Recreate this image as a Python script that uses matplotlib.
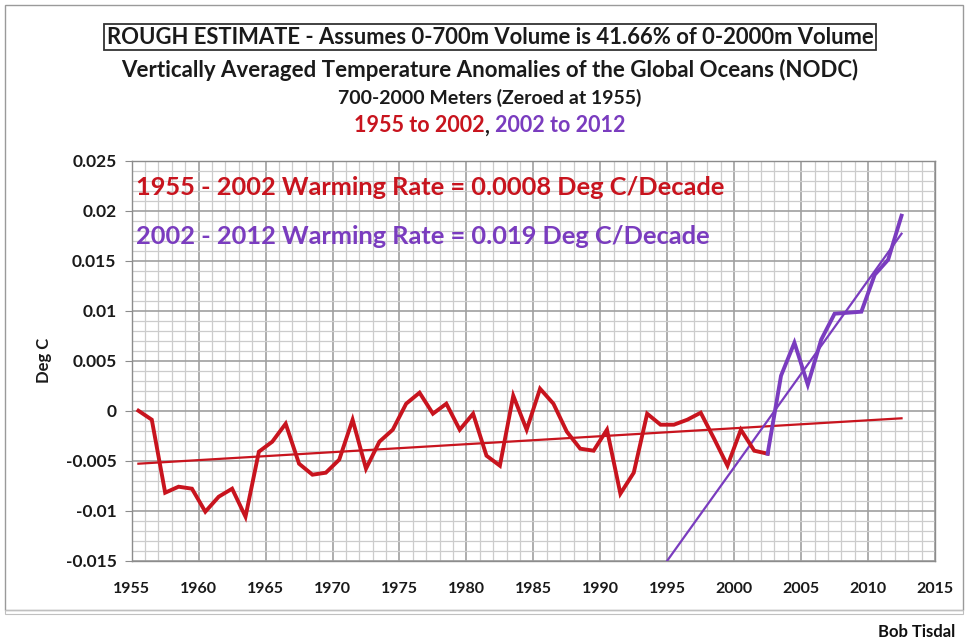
import numpy as np
import matplotlib
matplotlib.use("Agg")
import matplotlib.pyplot as plt
from matplotlib.ticker import MultipleLocator, FixedLocator
from matplotlib.patches import Rectangle

# ---------------- data ----------------
red_years = list(range(1955, 2003))
red_values = [0.0000, -0.0009, -0.0082, -0.0076, -0.0078, -0.0101, -0.0086, -0.0078,
              -0.0106, -0.0041, -0.0031, -0.0013, -0.0053, -0.0064, -0.0062, -0.0049,
              -0.0009, -0.0058, -0.0031, -0.0019, 0.0007, 0.0018, -0.0003, 0.0007,
              -0.0019, -0.0003, -0.0045, -0.0055, 0.0015, -0.0019, 0.0022, 0.0007,
              -0.0021, -0.0038, -0.0040, -0.0019, -0.0083, -0.0062, -0.0003, -0.0014,
              -0.0014, -0.0009, -0.0002, -0.0028, -0.0055, -0.0019, -0.0040, -0.0043]
purple_years = list(range(2002, 2013))
purple_values = [-0.0043, 0.0035, 0.0068, 0.0026, 0.0071, 0.0097, 0.0098, 0.0099,
                 0.0136, 0.0151, 0.0195]
red_trend_years = [1955, 2012]
red_trend_values = [-0.0053, -0.00076]
purple_trend_years = [1994.5, 2012]
purple_trend_values = [-0.0150, 0.0177]

x_ticks = [1955, 1960, 1965, 1970, 1975, 1980, 1985, 1990, 1995, 2000, 2005, 2010, 2015]
y_ticks = [-0.015, -0.01, -0.005, 0, 0.005, 0.01, 0.015, 0.02, 0.025]
y_tick_labels = ["-0.015", "-0.01", "-0.005", "0", "0.005", "0.01", "0.015", "0.02", "0.025"]

title_box = "ROUGH ESTIMATE - Assumes 0-700m Volume is 41.66% of 0-2000m Volume"
title_2 = "Vertically Averaged Temperature Anomalies of the Global Oceans (NODC)"
title_3 = "700-2000 Meters (Zeroed at 1955)"
title_4_red = "1955 to 2002"
title_4_sep = ", "
title_4_purple = "2002 to 2012"
note_red = "1955 - 2002 Warming Rate = 0.0008 Deg C/Decade"
note_purple = "2002 - 2012 Warming Rate = 0.019 Deg C/Decade"
y_label = "Deg C"
credit = "Bob Tisdal"

RED = "#c8141e"
PURPLE = "#7a3cbf"
FONT = ["Lato", "DejaVu Sans"]

plt.rcParams['font.family'] = FONT

W, H = 968, 640
fig = plt.figure(figsize=(W / 100, H / 100), dpi=100)
ax = fig.add_axes([131.7 / W, 1 - 560.7 / H, (935 - 131.7) / W, 400 / H])

# data are annual means -> plotted at mid-year
ax.plot(np.array(red_trend_years) + 0.5, red_trend_values, color=RED, lw=1.6, zorder=3)
ax.plot(np.array(purple_trend_years) + 0.5, purple_trend_values, color=PURPLE, lw=1.6, zorder=3)
ax.plot(np.array(red_years) + 0.5, red_values, color=RED, lw=2.8, zorder=4,
        solid_joinstyle='miter')
ax.plot(np.array(purple_years) + 0.5, purple_values, color=PURPLE, lw=2.8, zorder=5,
        solid_joinstyle='miter')

ax.set_xlim(1955, 2015)
ax.set_ylim(-0.015, 0.025)
ax.xaxis.set_major_locator(FixedLocator(x_ticks))
ax.xaxis.set_minor_locator(MultipleLocator(1))
ax.yaxis.set_major_locator(FixedLocator(y_ticks))
ax.yaxis.set_minor_locator(MultipleLocator(0.001))
ax.set_xticklabels([str(v) for v in x_ticks])
ax.set_yticklabels(y_tick_labels)

ax.grid(which='major', color='#a0a0a0', lw=1.2, zorder=1)
ax.grid(which='minor', color='#cccccc', lw=0.9, zorder=0)
ax.set_axisbelow(True)
for s in ax.spines.values():
    s.set_color('#8c8c8c')
    s.set_linewidth(1.0)

ax.tick_params(axis='x', which='both', length=0, pad=15, labelsize=11.5)
ax.tick_params(axis='y', which='major', length=5, color='#8c8c8c', pad=6, labelsize=12.5)
ax.tick_params(axis='y', which='minor', length=0)
for lab in ax.get_xticklabels() + ax.get_yticklabels():
    lab.set_fontweight('bold')
    lab.set_color('#1a1a1a')

ax.set_ylabel(y_label, fontsize=12, fontweight='bold', labelpad=10, color='#1a1a1a')

ax.text(1955.3, 0.0223, note_red, color=RED, fontsize=18.3, fontweight='bold',
        va='center', ha='left', zorder=6)
ax.text(1955.3, 0.0174, note_purple, color=PURPLE, fontsize=18.3, fontweight='bold',
        va='center', ha='left', zorder=6)

# titles
cx = 490 / W
fig.text(cx, 1 - 37 / H, title_box, ha='center', va='center', fontsize=15.8,
         fontweight='bold', color='#1a1a1a',
         bbox=dict(boxstyle='square,pad=0.12', fc='white', ec='#333333', lw=1.3))
fig.text(cx, 1 - 70 / H, title_2, ha='center', va='center', fontsize=16,
         fontweight='bold', color='#1a1a1a')
fig.text(cx, 1 - 98 / H, title_3, ha='center', va='center', fontsize=14,
         fontweight='bold', color='#1a1a1a')

# multi-colour line 4
fig.canvas.draw()
r = fig.canvas.get_renderer()
T4 = 15.5
parts = [(title_4_red, RED), (title_4_sep, '#1a1a1a'), (title_4_purple, PURPLE)]
tmp = [fig.text(0, 0, p, fontsize=T4, fontweight='bold') for p, _ in parts]
widths = [t.get_window_extent(r).width for t in tmp]
for t in tmp:
    t.remove()
x0 = 490 - sum(widths) / 2
for (p, c), w in zip(parts, widths):
    fig.text(x0 / W, 1 - 126 / H, p, ha='left', va='center', fontsize=T4,
             fontweight='bold', color=c)
    x0 += w

fig.text(955 / W, 1 - 632 / H, credit, ha='right', va='center', fontsize=12,
         fontweight='bold', color='#111111')

# chart-area frame
fig.patches.append(Rectangle((5 / W, 1 - 610 / H), 958 / W, 605 / H, transform=fig.transFigure,
                             fill=False, ec='#9a9a9a', lw=1.0))
fig.patches.append(Rectangle((5 / W, 1 - 614 / H), 958 / W, 4 / H, transform=fig.transFigure,
                             fill=False, ec='#c0c0c0', lw=0.8))

fig.savefig("out.png", dpi=100)
